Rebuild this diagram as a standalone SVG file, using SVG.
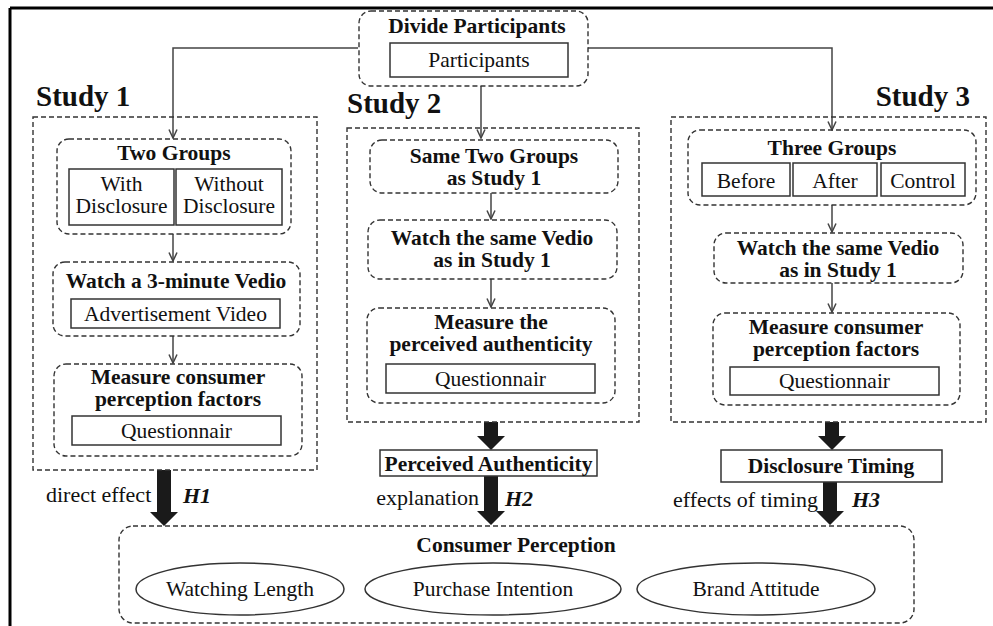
<svg xmlns="http://www.w3.org/2000/svg" width="993" height="626" viewBox="0 0 993 626">
<style>
  .dash { fill: none; stroke: #333; stroke-width: 1.4; stroke-dasharray: 5 3; }
  .box { fill: #fff; stroke: #333; stroke-width: 1.5; }
  .conn { fill: none; stroke: #444; stroke-width: 1.5; }
  .thick { fill: #1a1a1a; stroke: none; }
  text { font-family: 'Liberation Serif', 'DejaVu Serif', serif; fill: #111; }
  .t { font-size: 21.5px; text-anchor: middle; }
  .b { font-size: 21.5px; font-weight: bold; text-anchor: middle; }
  .st { font-size: 29px; font-weight: bold; }
  .h { font-size: 22px; font-weight: bold; font-style: italic; }
  .l { font-size: 22px; }
</style>
<defs>
  <marker id="arr" viewBox="0 0 10 10" refX="9.5" refY="5" markerWidth="10" markerHeight="10" markerUnits="userSpaceOnUse" orient="auto">
    <path d="M1,1 L9.5,5 L1,9" fill="none" stroke="#444" stroke-width="1.5"/>
  </marker>
</defs>
<rect width="993" height="626" fill="#fff"/>
<path d="M10,8 H993 M10,8 V626" fill="none" stroke="#000" stroke-width="3"/>

<g id="connectors">
  <path class="conn" d="M358,48 H173 V138" marker-end="url(#arr)"/>
  <path class="conn" d="M588,48 H832 V130" marker-end="url(#arr)"/>
  <path class="conn" d="M481,86 V138" marker-end="url(#arr)"/>
  <path class="conn" d="M173,234 V261" marker-end="url(#arr)"/>
  <path class="conn" d="M173,336 V363" marker-end="url(#arr)"/>
  <path class="conn" d="M491,193 V219" marker-end="url(#arr)"/>
  <path class="conn" d="M491,279 V307" marker-end="url(#arr)"/>
  <path class="conn" d="M832,205 V232" marker-end="url(#arr)"/>
  <path class="conn" d="M832,283 V312" marker-end="url(#arr)"/>
  <path class="thick" d="M484,422 H498 V436 H505 L491,450 L477,436 H484 Z"/>
  <path class="thick" d="M825,422 H839 V436 H846 L832,450 L818,436 H825 Z"/>
  <path class="thick" d="M157,470 H171 V512 H178 L164,526 L150,512 H157 Z"/>
  <path class="thick" d="M484,476 H498 V511 H505 L491,525 L477,511 H484 Z"/>
  <path class="thick" d="M823,482 H837 V511 H844 L830,525 L816,511 H823 Z"/>
  <text class="l" x="46" y="502">direct effect</text>
  <text class="h" x="183" y="503">H1</text>
  <text class="l" x="479" y="505" text-anchor="end">explanation</text>
  <text class="h" x="505" y="506">H2</text>
  <text class="l" x="818" y="507" text-anchor="end">effects of timing</text>
  <text class="h" x="852" y="507">H3</text>
</g>

<g id="divide">
  <rect class="dash" x="359" y="11" width="229" height="75" rx="12"/>
  <text class="b" x="477" y="33">Divide Participants</text>
  <rect class="box" x="390" y="43" width="178" height="34"/>
  <text class="t" x="479" y="67">Participants</text>
</g>

<g id="study1">
  <text class="st" x="36" y="106">Study 1</text>
  <rect class="dash" x="33" y="117" width="284" height="353"/>
  <g id="s1-groups">
    <rect class="dash" x="57" y="139" width="234" height="95" rx="12"/>
    <text class="b" x="174" y="160">Two Groups</text>
    <rect class="box" x="69" y="169" width="105" height="56"/>
    <rect class="box" x="176" y="169" width="106" height="56"/>
    <text class="t" x="121.5" y="191">With</text>
    <text class="t" x="121.5" y="213">Disclosure</text>
    <text class="t" x="229" y="191">Without</text>
    <text class="t" x="229" y="213">Disclosure</text>
  </g>
  <g id="s1-watch">
    <rect class="dash" x="53" y="262" width="247" height="74" rx="12"/>
    <text class="b" x="176" y="288">Watch a 3-minute Vedio</text>
    <rect class="box" x="71" y="299" width="209" height="29"/>
    <text class="t" x="175.5" y="321">Advertisement Video</text>
  </g>
  <g id="s1-measure">
    <rect class="dash" x="54" y="364" width="248" height="92" rx="12"/>
    <text class="b" x="178" y="384">Measure consumer</text>
    <text class="b" x="178" y="406">perception factors</text>
    <rect class="box" x="72" y="416" width="209" height="29"/>
    <text class="t" x="176.5" y="438">Questionnair</text>
  </g>
</g>

<g id="study2">
  <text class="st" x="347" y="113">Study 2</text>
  <rect class="dash" x="347" y="128" width="292" height="294"/>
  <g id="s2-groups">
    <rect class="dash" x="370" y="140" width="248" height="53" rx="12"/>
    <text class="b" x="494" y="163">Same Two Groups</text>
    <text class="b" x="494" y="185">as Study 1</text>
  </g>
  <g id="s2-watch">
    <rect class="dash" x="368" y="220" width="249" height="59" rx="12"/>
    <text class="b" x="492" y="245">Watch the same Vedio</text>
    <text class="b" x="492" y="267">as in Study 1</text>
  </g>
  <g id="s2-measure">
    <rect class="dash" x="367" y="308" width="248" height="95" rx="12"/>
    <text class="b" x="491" y="329">Measure the</text>
    <text class="b" x="491" y="351">perceived authenticity</text>
    <rect class="box" x="386" y="364" width="209" height="29"/>
    <text class="t" x="490.5" y="386">Questionnair</text>
  </g>
</g>
<g id="perceived-authenticity">
  <rect class="box" x="380" y="450" width="217" height="26"/>
  <text class="b" x="488.5" y="471">Perceived Authenticity</text>
</g>

<g id="study3">
  <text class="st" x="970" y="106" text-anchor="end">Study 3</text>
  <rect class="dash" x="671" y="117" width="315" height="305"/>
  <g id="s3-groups">
    <rect class="dash" x="688" y="130" width="288" height="75" rx="12"/>
    <text class="b" x="832" y="155">Three Groups</text>
    <rect class="box" x="702" y="163" width="88" height="33"/>
    <rect class="box" x="793" y="163" width="84" height="33"/>
    <rect class="box" x="881" y="163" width="84" height="33"/>
    <text class="t" x="746" y="188">Before</text>
    <text class="t" x="835" y="188">After</text>
    <text class="t" x="923" y="188">Control</text>
  </g>
  <g id="s3-watch">
    <rect class="dash" x="714" y="233" width="249" height="50" rx="12"/>
    <text class="b" x="838" y="255">Watch the same Vedio</text>
    <text class="b" x="838" y="277">as in Study 1</text>
  </g>
  <g id="s3-measure">
    <rect class="dash" x="713" y="313" width="247" height="92" rx="12"/>
    <text class="b" x="836" y="334">Measure consumer</text>
    <text class="b" x="836" y="356">perception factors</text>
    <rect class="box" x="730" y="367" width="209" height="28"/>
    <text class="t" x="834.5" y="388">Questionnair</text>
  </g>
</g>
<g id="disclosure-timing">
  <rect class="box" x="721" y="450" width="221" height="32"/>
  <text class="b" x="831" y="473">Disclosure Timing</text>
</g>

<g id="consumer-perception">
  <rect class="dash" x="119" y="526" width="795" height="97" rx="14"/>
  <text class="b" x="516" y="552">Consumer Perception</text>
  <ellipse class="box" cx="240" cy="589" rx="104" ry="26"/>
  <text class="t" x="240" y="596">Watching Length</text>
  <ellipse class="box" cx="493" cy="589" rx="128" ry="26"/>
  <text class="t" x="493" y="596">Purchase Intention</text>
  <ellipse class="box" cx="756" cy="589" rx="119" ry="26"/>
  <text class="t" x="756" y="596">Brand Attitude</text>
</g>
</svg>
